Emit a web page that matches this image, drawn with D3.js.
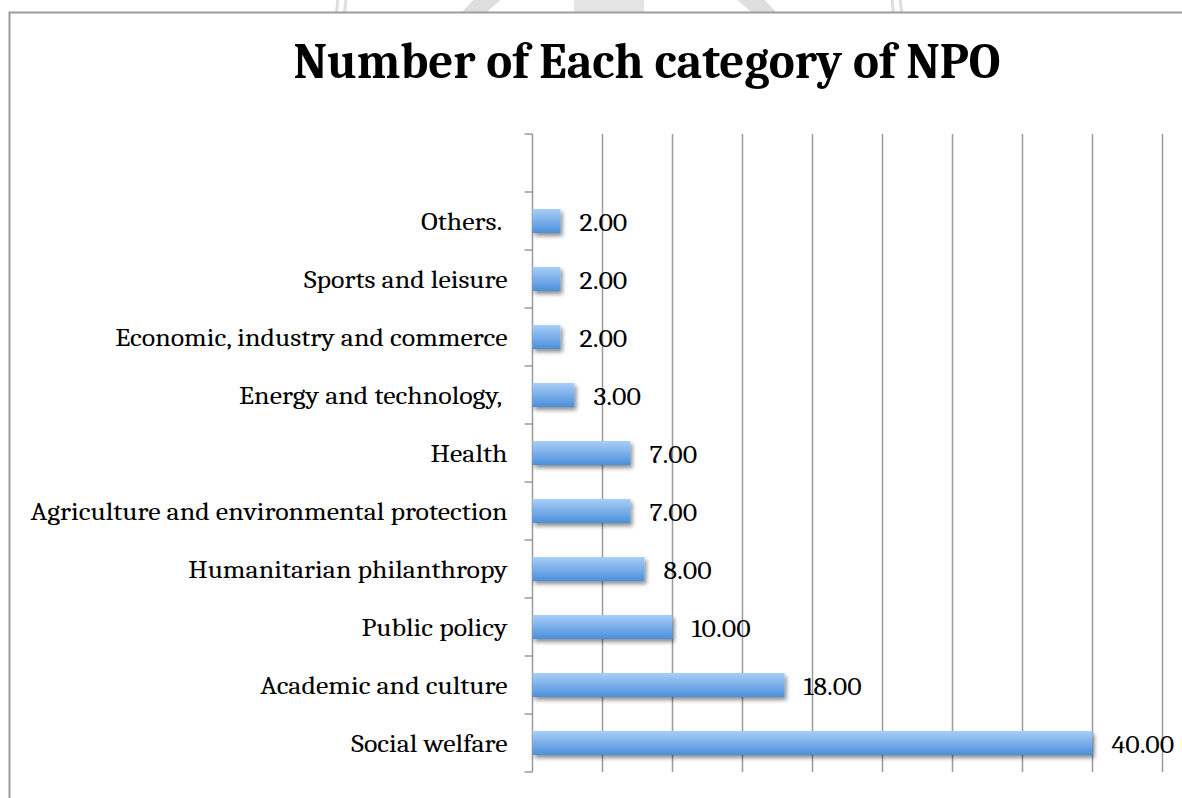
<!DOCTYPE html>
<html>
<head>
<meta charset="utf-8">
<script src="https://cdn.jsdelivr.net/npm/d3@7"></script>
<style>
  html, body { margin: 0; padding: 0; background: #fff; }
  svg { display: block; }
  text { white-space: pre; }
</style>
</head>
<body>
<script>
// Categories listed from bottom bar to top bar
const categories = [
  "Social welfare",
  "Academic and culture",
  "Public policy",
  "Humanitarian philanthropy",
  "Agriculture and environmental protection",
  "Health",
  "Energy and technology, ",
  "Economic, industry and commerce",
  "Sports and leisure",
  "Others. "
];
const counts = [40, 18, 10, 8, 7, 7, 3, 2, 2, 2];
const xTickValues = [0, 5, 10, 15, 20, 25, 30, 35, 40, 45];
const chartTitle = "Number of Each category of NPO";

const W = 1182, H = 798;
const plot = { left: 532.5, right: 1162.5, top: 134, bottom: 772 };
const serif = "Cambria, 'Liberation Serif', 'Times New Roman', serif";

const svg = d3.select("body").append("svg")
  .attr("width", W).attr("height", H);

const defs = svg.append("defs");
const grad = defs.append("linearGradient")
  .attr("id", "barFill").attr("x1", 0).attr("y1", 0).attr("x2", 0).attr("y2", 1);
grad.append("stop").attr("offset", "0%").attr("stop-color", "#a9cef8");
grad.append("stop").attr("offset", "100%").attr("stop-color", "#4b8fdb");

const shadow = defs.append("filter").attr("id", "barShadow")
  .attr("x", "-10%").attr("y", "-50%").attr("width", "130%").attr("height", "220%");
shadow.append("feGaussianBlur").attr("in", "SourceAlpha").attr("stdDeviation", 2.2).attr("result", "b");
shadow.append("feOffset").attr("in", "b").attr("dx", 1.5).attr("dy", 3).attr("result", "o");
shadow.append("feComponentTransfer").attr("in", "o").attr("result", "s")
  .append("feFuncA").attr("type", "linear").attr("slope", 0.45);
const merge = shadow.append("feMerge");
merge.append("feMergeNode").attr("in", "s");
merge.append("feMergeNode").attr("in", "SourceGraphic");

// faint emblem showing above the chart frame
const emblem = svg.append("g").attr("fill", "none").attr("stroke", "#dedede");
emblem.append("circle").attr("cx", 619).attr("cy", 40).attr("r", 284).attr("stroke-width", 3);
emblem.append("circle").attr("cx", 619).attr("cy", 40).attr("r", 276).attr("stroke-width", 3);
emblem.append("circle").attr("cx", 619).attr("cy", 150).attr("r", 200).attr("stroke-width", 18);
emblem.append("rect").attr("x", 574).attr("y", 0).attr("width", 70).attr("height", 14)
  .attr("fill", "#e4e4e4").attr("stroke", "none");

// chart area with its frame
svg.append("rect")
  .attr("x", 9.5).attr("y", 12.5).attr("width", W + 20).attr("height", H + 20)
  .attr("fill", "#fff").attr("stroke", "#9c9c9c").attr("stroke-width", 2);

svg.append("text")
  .attr("class", "title")
  .attr("x", 647).attr("y", 78)
  .attr("text-anchor", "middle")
  .attr("font-family", serif).attr("font-weight", "bold").attr("font-size", 50)
  .attr("fill", "#000")
  .text(chartTitle);

const x = d3.scaleLinear().domain([0, 45]).range([plot.left, plot.right]);

// one empty slot sits above the top category
const slots = [...categories].reverse();
slots.unshift("\u0000spacer");
const y = d3.scaleBand().domain(slots).range([plot.top, plot.bottom]).padding(0);

const rows = categories.map((c, i) => ({ cat: c, val: counts[i] }));

// vertical gridlines
svg.append("g").selectAll("line")
  .data(xTickValues.slice(1))
  .join("line")
  .attr("x1", d => x(d)).attr("x2", d => x(d))
  .attr("y1", plot.top).attr("y2", plot.bottom)
  .attr("stroke", "#9a9a9a").attr("stroke-width", 1.5);

// category axis with tick marks at band edges
const edges = slots.map(s => y(s)).concat([plot.bottom]);
const axisG = svg.append("g");
axisG.append("line")
  .attr("x1", plot.left).attr("x2", plot.left)
  .attr("y1", plot.top).attr("y2", plot.bottom)
  .attr("stroke", "#9a9a9a").attr("stroke-width", 1.5);
axisG.selectAll("line.tick").data(edges).join("line")
  .attr("class", "tick")
  .attr("x1", plot.left - 8).attr("x2", plot.left)
  .attr("y1", d => d).attr("y2", d => d)
  .attr("stroke", "#9a9a9a").attr("stroke-width", 1.5);

const barH = 24;
svg.append("g").selectAll("rect")
  .data(rows)
  .join("rect")
  .attr("x", x(0))
  .attr("y", d => y(d.cat) + y.bandwidth() / 2 - barH / 2)
  .attr("width", d => x(d.val) - x(0))
  .attr("height", barH)
  .attr("fill", "url(#barFill)")
  .attr("filter", "url(#barShadow)");

// category labels
const labels = svg.append("g").selectAll("text")
  .data(rows)
  .join("text")
  .attr("x", plot.left - 25)
  .attr("y", d => y(d.cat) + y.bandwidth() / 2 + 9)
  .attr("text-anchor", "end")
  .attr("font-family", serif).attr("font-size", 25)
  .attr("fill", "#000")
  .text(d => d.cat);

// value labels
const fmt = d3.format(".2f");
const values = svg.append("g").selectAll("text")
  .data(rows)
  .join("text")
  .attr("x", d => x(d.val) + 19)
  .attr("y", d => y(d.cat) + y.bandwidth() / 2 + 10)
  .attr("font-family", serif).attr("font-size", 25)
  .attr("fill", "#000")
  .text(d => fmt(d.val));

// widen the serif face to the proportions of the chart's font
const longest = labels.filter(d => d.cat.startsWith("Agriculture")).node();
const k = 477 / longest.getComputedTextLength();
labels.each(function() {
  const w = this.getComputedTextLength();
  d3.select(this).attr("textLength", w * k).attr("lengthAdjust", "spacingAndGlyphs");
});
values.each(function() {
  const w = this.getComputedTextLength();
  d3.select(this).attr("textLength", w * k).attr("lengthAdjust", "spacingAndGlyphs");
});
const t = svg.select("text.title");
t.attr("textLength", 707).attr("lengthAdjust", "spacingAndGlyphs");
</script>
</body>
</html>
